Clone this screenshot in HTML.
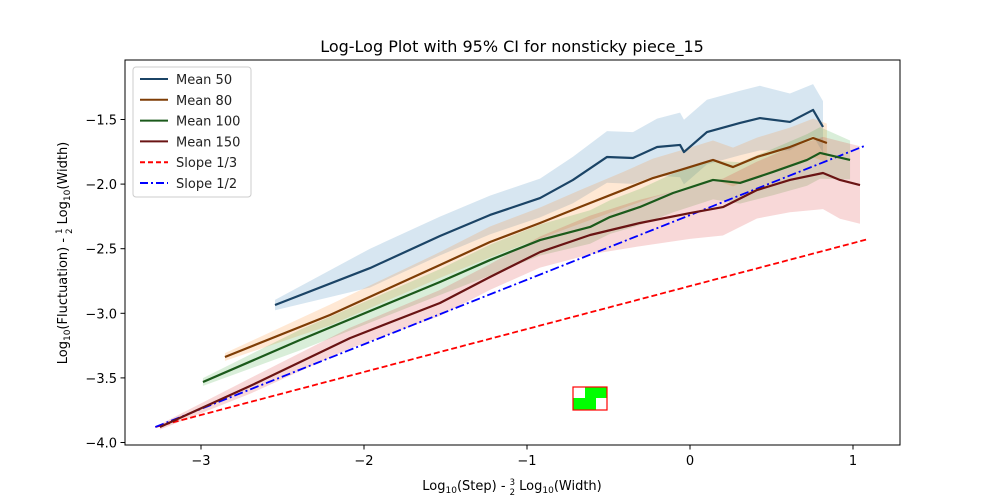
<!DOCTYPE html>
<html><head><meta charset="utf-8"><style>
body{margin:0;background:#fff}
svg{display:block;font-family:"DejaVu Sans","Liberation Sans",sans-serif}
</style></head><body>
<svg id="chart" width="1000" height="500" xmlns="http://www.w3.org/2000/svg">
<rect width="1000" height="500" fill="#fff"/>
<text x="512" y="52" font-size="16" text-anchor="middle">Log-Log Plot with 95% CI for nonsticky piece_15</text>
<g id="bands"></g>
<g id="lines"></g>
<g>
<rect x="573" y="387" width="34" height="23" fill="#00ff00"/>
<rect x="573" y="387" width="12" height="11" fill="#fff"/>
<rect x="596" y="398" width="11" height="12" fill="#fff"/>
<rect x="573" y="387" width="34" height="23" fill="none" stroke="#ff0000" stroke-width="1.2"/>
</g>
<rect x="125" y="60" width="775" height="385" fill="none" stroke="#000" stroke-width="1"/>
<g id="xticks"></g>
<g id="yticks"></g>
<text x="512" y="490" font-size="13" text-anchor="middle">Log<tspan font-size="9" dy="3">10</tspan><tspan dy="-3">(Step) - </tspan><tspan font-size="8.5" dy="-5">3</tspan><tspan font-size="8.5" dx="-5.5" dy="10">2</tspan><tspan dy="-5"> Log</tspan><tspan font-size="9" dy="3">10</tspan><tspan dy="-3">(Width)</tspan></text>
<text transform="translate(67,253) rotate(-90)" font-size="13" text-anchor="middle">Log<tspan font-size="9" dy="3">10</tspan><tspan dy="-3">(Fluctuation) - </tspan><tspan font-size="8.5" dy="-5">1</tspan><tspan font-size="8.5" dx="-5.5" dy="10">2</tspan><tspan dy="-5"> Log</tspan><tspan font-size="9" dy="3">10</tspan><tspan dy="-3">(Width)</tspan></text>
<g id="legend">
<rect x="133" y="67" width="118" height="130" rx="3" fill="#fff" fill-opacity="0.85" stroke="#ccc" stroke-width="1"/>
</g>
</svg>
<script>
const xTicks=[-3,-2,-1,0,1];
const yTicks=[-4.0,-3.5,-3.0,-2.5,-2.0,-1.5];
const yTickLabels=["−4.0","−3.5","−3.0","−2.5","−2.0","−1.5"];
const xTickLabels=["−3","−2","−1","0","1"];
const seriesNames=["Mean 50","Mean 80","Mean 100","Mean 150"];
const m50x=[-2.546,-1.963,-1.534,-1.227,-0.920,-0.718,-0.509,-0.350,-0.202,-0.061,-0.037,0.104,0.307,0.429,0.613,0.755,0.816];
const m50y=[-2.936,-2.650,-2.402,-2.239,-2.108,-1.968,-1.790,-1.798,-1.713,-1.697,-1.752,-1.597,-1.527,-1.489,-1.519,-1.426,-1.558];
const m50w=[0.04,0.15,0.15,0.15,0.15,0.18,0.2,0.2,0.22,0.25,0.25,0.25,0.25,0.25,0.22,0.2,0.2];
const m80x=[-2.853,-2.209,-1.534,-1.227,-0.920,-0.675,-0.411,-0.227,-0.061,0.141,0.264,0.411,0.613,0.755,0.840];
const m80y=[-3.338,-3.013,-2.626,-2.448,-2.301,-2.177,-2.046,-1.953,-1.891,-1.813,-1.868,-1.790,-1.713,-1.643,-1.682];
const m80w=[0.03,0.08,0.1,0.12,0.12,0.13,0.14,0.15,0.15,0.15,0.15,0.15,0.15,0.15,0.15];
const m100x=[-2.988,-2.393,-1.534,-1.227,-0.920,-0.613,-0.491,-0.307,-0.104,0.141,0.307,0.509,0.718,0.798,0.982];
const m100y=[-3.532,-3.207,-2.758,-2.588,-2.433,-2.332,-2.255,-2.177,-2.069,-1.968,-1.991,-1.906,-1.813,-1.759,-1.813];
const m100w=[0.03,0.08,0.1,0.12,0.12,0.13,0.13,0.14,0.15,0.15,0.16,0.18,0.2,0.2,0.15];
const m150x=[-3.252,-2.699,-2.086,-1.534,-1.227,-0.920,-0.613,-0.307,0.000,0.202,0.411,0.613,0.816,0.920,1.043];
const m150y=[-3.880,-3.563,-3.192,-2.920,-2.719,-2.526,-2.394,-2.301,-2.224,-2.178,-2.046,-1.968,-1.914,-1.968,-2.007];
const m150w=[0.02,0.06,0.08,0.1,0.1,0.12,0.15,0.18,0.2,0.22,0.22,0.25,0.28,0.3,0.3];
const slope13x=[-3.28,1.08];
const slope13y=[-3.88,-2.43];
const slope12x=[-3.28,1.08];
const slope12y=[-3.88,-1.70];

const NS="http://www.w3.org/2000/svg";
function X(v){return 690+v*163;}
function Y(v){return 442.5-(v+4)*129.2;}
function mk(tag,attrs,parent){const e=document.createElementNS(NS,tag);for(const k in attrs)e.setAttribute(k,attrs[k]);parent.appendChild(e);return e;}
const bands=document.getElementById('bands'),lines=document.getElementById('lines');
const series=[
 {x:m50x,y:m50y,w:m50w,c:"#1b4466",f:"#1f77b4",n:"mean-50"},
 {x:m80x,y:m80y,w:m80w,c:"#7f3d06",f:"#ff7f0e",n:"mean-80"},
 {x:m100x,y:m100y,w:m100w,c:"#1b5a1b",f:"#2ca02c",n:"mean-100"},
 {x:m150x,y:m150y,w:m150w,c:"#6a1414",f:"#d62728",n:"mean-150"}];
series.forEach(s=>{
 let up=s.x.map((v,i)=>X(v)+","+Y(s.y[i]+s.w[i]));
 let lo=s.x.map((v,i)=>X(v)+","+Y(s.y[i]-s.w[i])).reverse();
 const b=mk('polygon',{points:up.concat(lo).join(' '),fill:s.f,'fill-opacity':0.18},bands);
 
 
});
function line(xs,ys,attrs,name){
 const p=mk('polyline',Object.assign({points:xs.map((v,i)=>X(v)+","+Y(ys[i])).join(' '),fill:'none'},attrs),lines);
 
 
}
line(slope13x,slope13y,{stroke:'#ff0000','stroke-width':1.8,'stroke-dasharray':'6,3'},'slope-1-3-line');
line(slope12x,slope12y,{stroke:'#0000ff','stroke-width':1.8,'stroke-dasharray':'9,3,2,3'},'slope-1-2-line');
series.forEach(s=>line(s.x,s.y,{stroke:s.c,'stroke-width':2.2,'stroke-linejoin':'round'},s.n+'-line'));

const xt=document.getElementById('xticks');
xTicks.forEach((t,i)=>{
 const l=mk('line',{x1:X(t),x2:X(t),y1:445,y2:449.5,stroke:'#000'},xt);
 
 
 const tx=mk('text',{x:X(t),y:465,'font-size':13,'text-anchor':'middle'},xt);tx.textContent=xTickLabels[i];
 
 
});
const yt=document.getElementById('yticks');
yTicks.forEach((t,i)=>{
 const l=mk('line',{x1:120.5,x2:125,y1:Y(t),y2:Y(t),stroke:'#000'},yt);
 
 
 const tx=mk('text',{x:117,y:Y(t)+5,'font-size':13,'text-anchor':'end'},yt);tx.textContent=yTickLabels[i];
 
 
});
const lg=document.getElementById('legend');
const items=[["Mean 50","#1b4466",""],["Mean 80","#7f3d06",""],["Mean 100","#1b5a1b",""],["Mean 150","#6a1414",""],["Slope 1/3","#ff0000","5,3"],["Slope 1/2","#0000ff","8,3,2,3"]];
items.forEach((it,i)=>{
 const y=79+i*20.8;
 const l=mk('line',{x1:140,x2:168,y1:y,y2:y,stroke:it[1],'stroke-width':2,'stroke-dasharray':it[2]||'none'},lg);
 
 
 const t=mk('text',{x:176,y:y+5,'font-size':13,fill:'#222'},lg);t.textContent=it[0];
 
 
});
</script>
</body></html>
